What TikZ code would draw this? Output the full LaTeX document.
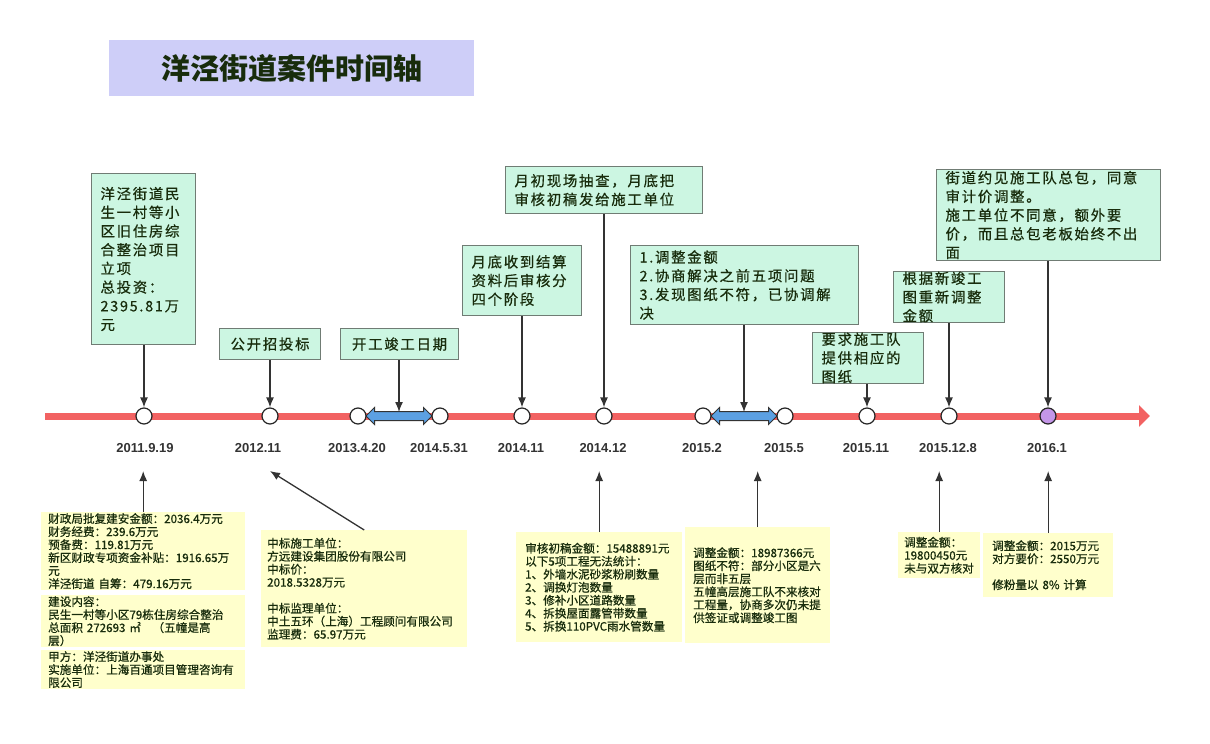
\documentclass[tikz,border=0pt]{standalone}
\usepackage{fontspec}
\setmainfont{Noto Sans CJK SC}
\newfontfamily\eventfont{Noto Sans CJK SC}[FakeBold=0.6,LetterSpace=12]
\newfontfamily\notefont{Noto Sans CJK SC}[FakeBold=0.6]
\newfontfamily\datefont{Liberation Sans}
\usetikzlibrary{arrows.meta,shapes.arrows}
\definecolor{axisred}{RGB}{242,98,98}
\definecolor{boxgreen}{RGB}{204,246,226}
\definecolor{boxline}{RGB}{112,124,116}
\definecolor{noteyellow}{RGB}{255,255,204}
\definecolor{titleblue}{RGB}{206,206,248}
\definecolor{ink}{RGB}{24,44,12}
\definecolor{spanblue}{RGB}{92,160,226}
\definecolor{lastdot}{RGB}{196,150,232}
\begin{document}
\begin{tikzpicture}[x=1pt,y=-1pt,
		axis/.style={line width=7pt,axisred,-{Triangle[length=11pt,width=21pt]}},
		dot/.style={circle,draw=black!85,fill=white,line width=1.2pt,minimum size=16pt,inner sep=0pt},
		span/.style={double arrow,draw=black!80,fill=spanblue,line width=1pt,minimum height=66pt,inner xsep=0pt,inner ysep=4pt,double arrow head extend=4pt},
		date/.style={font=\datefont\bfseries\fontsize{13pt}{15pt}\selectfont,text=black!80},
		event/.style={anchor=north west,draw=boxline,fill=boxgreen,line width=1.1pt,inner xsep=9pt,inner ysep=2pt,align=left,text=ink,font=\eventfont\fontsize{14.4pt}{18.7pt}\selectfont},
		note/.style={anchor=north west,fill=noteyellow,inner xsep=7pt,inner ysep=1pt,align=left,text=ink,font=\notefont\fontsize{11.6pt}{13pt}\selectfont},
		link/.style={draw=black!80,line width=1.3pt,-{Latex[length=10pt,width=8pt]}}]
	\useasboundingbox (0,0) rectangle (1210,744);
	\node[anchor=north west,fill=titleblue,minimum width=365pt,minimum height=56pt,text=ink,font=\bfseries\fontsize{29pt}{32pt}\selectfont] (title) at (109,40) {洋泾街道案件时间轴};
	\coordinate (tl0) at (45,416);
	\coordinate (tl1) at (1150,416);
	\draw[axis] (tl0) -- (tl1);
	\node[span] (s1) at (399,416) {};
	\node[span] (s2) at (744,416) {};
	\foreach \n/\x in {1/144,2/270,3/358,4/440,5/522,6/604,7/703,8/785,9/867,10/949}
		\node[dot] (d\n) at (\x,416) {};
	\node[dot,fill=lastdot] (d11) at (1048,416) {};
	\foreach \n/\x/\t in {1/145/2011.9.19,2/258/2012.11,3/357/2013.4.20,4/439/2014.5.31,5/521/2014.11,6/603/2014.12,7/702/2015.2,8/784/2015.5,9/866/2015.11,10/948/2015.12.8,11/1047/2016.1}
		\node[date] (t\n) at (\x,448) {\t};
	\node[event,text width=86pt,minimum height=171pt] (lixiang) at (91,173) {洋泾街道民\\生一村等小\\区旧住房综\\合整治项目\\立项\\总投资：\\2395.81万\\元};
	\node[event,text width=83pt,minimum height=31pt,align=center] (zhaobiao) at (219,328) {公开招投标};
	\node[event,text width=100pt,minimum height=31pt,align=center] (kaigong) at (340,328) {开工竣工日期};
	\node[event,text width=101pt,minimum height=70pt] (shoudao) at (462,245) {月底收到结算\\资料后审核分\\四个阶段};
	\node[event,text width=179pt,minimum height=47pt] (choucha) at (505,166) {月初现场抽查，月底把\\审核初稿发给施工单位};
	\node[event,text width=210pt,minimum height=79pt] (tiaozheng) at (630,245) {1.调整金额\\2.协商解决之前五项问题\\3.发现图纸不符，已协调解\\决};
	\node[event,text width=93pt,minimum height=49pt,inner ysep=0pt] (tuzhi) at (812,332) {要求施工队\\提供相应的\\图纸};
	\node[event,text width=93pt,minimum height=49pt,inner ysep=0pt] (xinjungong) at (893,271) {根据新竣工\\图重新调整\\金额};
	\node[event,text width=206pt,minimum height=91pt,inner ysep=0pt] (yuejian) at (936,169) {街道约见施工队总包，同意\\审计价调整。\\施工单位不同意，额外要\\价，而且总包老板始终不出\\面};
	\node[note,text width=190pt] (caizheng) at (41,512) {财政局批复建安金额：2036.4万元\\财务经费：239.6万元\\预备费：119.81万元\\新区财政专项资金补贴：1916.65万\\元\\洋泾街道\ 自筹：479.16万元};
	\node[note,text width=190pt] (neirong) at (41,595) {建设内容：\\民生一村等小区79栋住房综合整治\\总面积 272693 ㎡\quad（五幢是高\\层）};
	\node[note,text width=190pt] (jiafang) at (41,650) {甲方：洋泾街道办事处\\实施单位：上海百通项目管理咨询有\\限公司};
	\node[note,text width=194pt,inner xsep=6pt,minimum height=117pt] (zhongbiao) at (261,530) {中标施工单位：\\方远建设集团股份有限公司\\中标价：\\2018.5328万元\\[13pt]中标监理单位：\\中土五环（上海）工程顾问有限公司\\监理费：65.97万元};
	\node[note,text width=148pt,inner xsep=9pt,minimum height=110pt] (chugao) at (516,532) {审核初稿金额：15488891元\\以下5项工程无法统计：\\1、外墙水泥砂浆粉刷数量\\2、调换灯泡数量\\3、修补小区道路数量\\4、拆换屋面露管带数量\\5、拆换110PVC雨水管数量};
	\node[note,text width=129pt,inner xsep=8pt,minimum height=116pt] (jine) at (685,527) {调整金额：18987366元\\图纸不符：部分小区是六\\层而非五层\\五幢高层施工队不来核对\\工程量，协商多次仍未提\\供签证或调整竣工图};
	\node[note,text width=70pt,inner xsep=6pt,minimum height=46pt] (hedui) at (898,532) {调整金额：\\19800450元\\未与双方核对};
	\node[note,text width=112pt,inner xsep=9pt,minimum height=64pt] (yaojia) at (983,533) {调整金额：2015万元\\对方要价：2550万元\\[13pt]修粉量以 8\% 计算};
	\draw[link] (d1 |- lixiang.south) -- (d1.north);
	\draw[link] (d2 |- zhaobiao.south) -- (d2.north);
	\draw[link] (s1 |- kaigong.south) -- ([yshift=4pt]s1.center);
	\draw[link] (d5 |- shoudao.south) -- (d5.north);
	\draw[link] (d6 |- choucha.south) -- (d6.north);
	\draw[link] (s2 |- tiaozheng.south) -- ([yshift=4pt]s2.center);
	\draw[link] (d9 |- tuzhi.south) -- (d9.north);
	\draw[link] (d10 |- xinjungong.south) -- (d10.north);
	\draw[link] (d11 |- yuejian.south) -- (d11.north);
	\coordinate (low) at (0,471);
	\draw[link] (caizheng.north) -- (caizheng.north |- low);
	\draw[link] (zhongbiao.north) -- (d2 |- low);
	\draw[link] (chugao.north) -- (chugao.north |- low);
	\draw[link] (jine.north) -- (jine.north |- low);
	\draw[link] (hedui.north) -- (hedui.north |- low);
	\draw[link] (yaojia.north) -- (yaojia.north |- low);
\end{tikzpicture}
\end{document}
